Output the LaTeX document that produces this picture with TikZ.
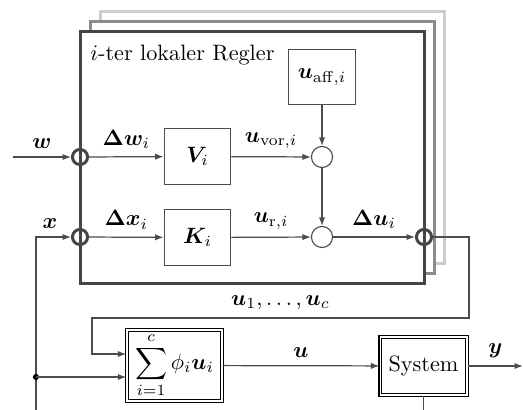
\documentclass[tikz,border=0pt]{standalone}
\usepackage{amsmath}
\usepackage{bm}
\usetikzlibrary{arrows.meta}

\definecolor{framedark}{gray}{0.27}
\definecolor{framemid}{gray}{0.55}
\definecolor{framelight}{gray}{0.8}
\definecolor{linegray}{gray}{0.3}

\tikzset{
    block/.style={draw=linegray, line width=0.5pt, fill=white, minimum width=30pt, minimum height=25pt, inner sep=1pt},
    sumnode/.style={circle, draw=linegray, line width=0.5pt, fill=white, minimum size=9.5pt, inner sep=0pt},
    junction/.style={circle, draw=framedark, line width=1.35pt, minimum size=6.8pt, inner sep=0pt},
    dblock/.style={draw=black, double=white, line width=0.7pt, double distance=0.6pt, fill=white, inner sep=1pt},
    frame/.style={line width=1.35pt, fill=white},
    sig/.style={-{Latex[length=3.8pt,width=2.8pt]}, line width=0.55pt, draw=linegray},
    wire/.style={line width=0.55pt, draw=linegray}
}

\begin{document}
\begin{tikzpicture}[x=0.45pt, y=-0.45pt]
    % picture area in pixel units of the reference
    \useasboundingbox (0,0) rectangle (523,410);

    % stacked frames of the local controllers
    \draw[frame, draw=framelight] (100,11) rectangle (444,263);
    \draw[frame, draw=framemid] (90,21) rectangle (434,273);
    \draw[frame, draw=framedark] (80,31) rectangle (424,283);
    \node[anchor=base west, inner sep=0pt] (title) at (90,60) {$i$-ter lokaler Regler};

    % junctions on the frame border (the frame edge shows through)
    \node[junction] (jw) at (80,157) {};
    \node[junction] (jx) at (80,237) {};
    \node[junction] (ju) at (424,237) {};

    % blocks inside the frame
    \node[block] (V) at (197.5,156.5) {$\bm{V}_i$};
    \node[block] (K) at (197.5,237.5) {$\bm{K}_i$};
    \node[block] (aff) at (322,77) {$\bm{u}_{\mathrm{aff},i}$};
    \node[sumnode] (s1) at (322,157) {};
    \node[sumnode] (s2) at (322,237) {};

    % blocks outside the frame
    \node[dblock, minimum width=42.7pt, minimum height=32pt] (sum) at (174.5,365.5) {$\displaystyle\sum_{i=1}^{c}\phi_i\bm{u}_i$};
    \node[dblock, minimum width=39pt, minimum height=26pt] (sys) at (423.5,366) {System};

    % free ends and corners
    \coordinate (win) at (13,157);
    \coordinate (xbot) at (36,410);
    \coordinate (dot) at (36,377);
    \coordinate (fbr) at (469,318);
    \coordinate (fbl) at (92,354);
    \coordinate (yout) at (523,366);
    \coordinate (sysbot) at (423.5,410);

    % signals inside the controller
    \draw[sig] (win) -- node[above] {$\bm{w}$} (jw);
    \draw[sig] (xbot) |- node[above, pos=0.7] {$\bm{x}$} (jx);
    \draw[sig] (jw) -- node[above] {$\bm{\Delta w}_i$} (V);
    \draw[sig] (jx) -- node[above] {$\bm{\Delta x}_i$} (K);
    \draw[sig] (V) -- node[above] {$\bm{u}_{\mathrm{vor},i}$} (s1);
    \draw[sig] (K) -- node[above] {$\bm{u}_{\mathrm{r},i}$} (s2);
    \draw[sig] (aff) -- (s1);
    \draw[sig] (s1) -- (s2);
    \draw[sig] (s2) -- node[above] {$\bm{\Delta u}_i$} (ju);

    % feedback of the local outputs and plant
    \draw[sig] (ju.east) -| (fbr) -| node[above, pos=0.25] {$\bm{u}_1,\dots,\bm{u}_c$} (fbl) -- (sum.west |- fbl);
    \fill[black] (dot) circle (1.4pt);
    \draw[sig] (dot) -- (sum.west |- dot);
    \draw[sig] (sum) -- node[above] {$\bm{u}$} (sys);
    \draw[sig] (sys) -- node[above] {$\bm{y}$} (yout);
    \draw[wire] (sys.south) -- (sysbot);
\end{tikzpicture}
\end{document}
